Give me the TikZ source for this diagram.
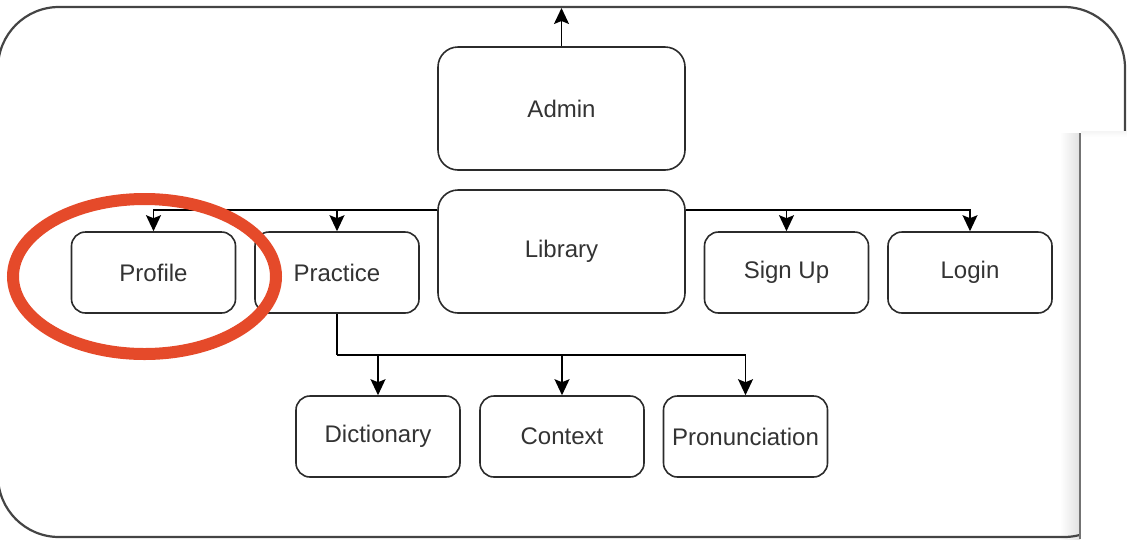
\documentclass[tikz,border=0pt]{standalone}
\usepackage{fontspec}
\setmainfont{Liberation Sans}
\usetikzlibrary{arrows.meta,calc}
\definecolor{txt}{HTML}{333333}
\definecolor{edgecol}{HTML}{2B2B2B}
\definecolor{framecol}{HTML}{444444}
\definecolor{hilite}{HTML}{E54A2A}
\tikzset{
  box/.style={draw=edgecol, line width=1.6pt, rounded corners=14pt, fill=white,
    inner sep=0pt, minimum width=164pt, minimum height=81pt,
    font=\fontsize{24}{28}\selectfont, text=txt},
  bigbox/.style={box, rounded corners=20pt, minimum width=247pt, minimum height=123pt},
  arr/.style={draw=black, line width=1.5pt, arrows={-Stealth[length=16pt,width=15pt,inset=3pt]}},
  conn/.style={draw=black, line width=1.5pt}
}
\begin{document}
\begin{tikzpicture}[x=1pt,y=-1pt]
\useasboundingbox (0,0) rectangle (1127,539);
% overlay shadow (under the frame line)
\shade[left color=white, right color=black!12] (1060,133) rectangle (1080,539);
% outer frame
\draw[framecol, line width=2.2pt, rounded corners=61pt] (-2,7) rectangle (1125,537);
% nodes
\node[bigbox] (admin) at (561.5,108.5) {Admin};
\node[bigbox] (library) at (561.5,251.5) {\raisebox{2pt}{Library}};
\node[box] (profile) at (153.5,272.5) {Profile};
\node[box] (practice) at (337,272.5) {Practice};
\node[box] (signup) at (786.5,272.5) {Sign Up};
\node[box] (login) at (970,272.5) {Login};
\node[box] (dict) at (378,436.5) {Dictionary};
\node[box] (context) at (562,436.5) {Context};
\node[box] (pron) at (745.5,436.5) {Pronunciation};
% connectors
\coordinate (top) at (admin.north |- 0,8);
\draw[arr] (admin.north) -- (top);
\coordinate (jl) at ([yshift=-21pt]library.north west);
\coordinate (jr) at ([yshift=-21pt]library.north east);
\draw[arr] (jl) -| (profile.north);
\draw[arr] (practice.north |- jl) -- (practice.north);
\draw[arr] (jr) -| (login.north);
\draw[arr] (signup.north |- jr) -- (signup.north);
\coordinate (jp) at ([yshift=-41pt]practice.south);
\draw[conn] (practice.south) -- (jp);
\draw[arr] (jp) -| (pron.north);
\draw[arr] (dict.north |- jp) -- (dict.north);
\draw[arr] (context.north |- jp) -- (context.north);
% highlight
\draw[hilite, line width=12pt] (144.5,276.5) ellipse [x radius=131.5, y radius=77.5];
% overlay panel on the right
\fill[white] (1080,133) rectangle (1127,539);
\shade[top color=black!4, bottom color=white] (1081,131) rectangle (1127,137);
\draw[black!55, line width=1.6pt] (1080,133) -- (1080,539);
\end{tikzpicture}
\end{document}
